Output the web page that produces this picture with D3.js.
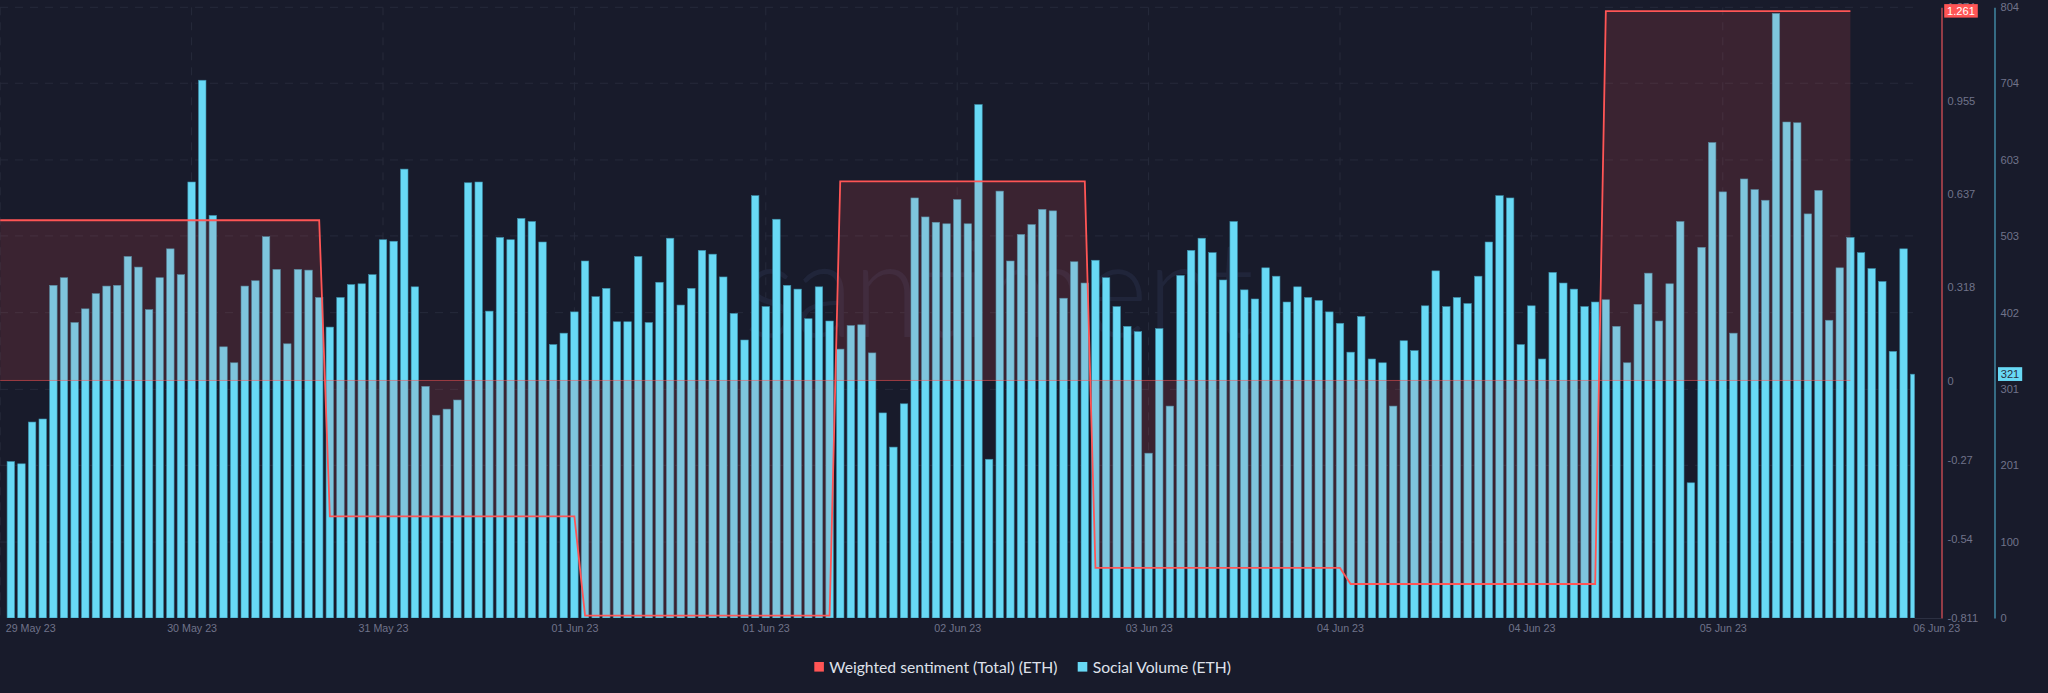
<!DOCTYPE html>
<html>
<head>
<meta charset="utf-8">
<script src="https://cdn.jsdelivr.net/npm/d3@7"></script>
<style>
  html, body { margin: 0; padding: 0; background: #181b2b; }
  svg { display: block; }
  .tick text { font-family: "Liberation Sans", sans-serif; font-size: 11.1px; fill: #70738a; }
  .x-axis .tick text { font-size: 10.7px; }
</style>
</head>
<body>
<div id="chart"></div>
<script>
// Social volume, one bar per period
const socialVolume = [
  206, 203, 258, 262, 438, 448, 389, 407, 427, 437, 438, 476, 462, 406, 448, 486, 452, 574,
  708, 530, 357, 336, 437, 444, 502, 459, 361, 459, 458, 422, 383, 422, 439, 440, 452, 498,
  496, 591, 436, 305, 267, 275, 287, 573, 574, 404, 501, 498, 526, 522, 495, 360, 375, 403,
  470, 423, 434, 390, 390, 476, 389, 442, 500, 412, 434, 484, 479, 449, 401, 366, 556, 410,
  525, 438, 433, 394, 436, 391, 354, 385, 386, 349, 270, 225, 282, 553, 528, 521, 519, 551,
  519, 676, 209, 562, 470, 505, 518, 538, 536, 421, 469, 441, 471, 448, 410, 384, 377, 217,
  381, 279, 451, 484, 500, 481, 445, 522, 432, 420, 461, 450, 416, 436, 422, 418, 403, 388,
  350, 397, 341, 336, 279, 365, 352, 411, 457, 410, 422, 414, 450, 495, 556, 553, 360, 411,
  341, 455, 441, 433, 410, 416, 419, 384, 336, 413, 454, 391, 440, 522, 178, 488, 626, 561,
  375, 578, 564, 550, 796, 653, 652, 532, 563, 392, 461, 501, 481, 460, 443, 351, 486, 321
];

// Weighted sentiment is a daily step, given at the bars where it changes
const sentimentIndex = [-1, 29, 30, 53, 54, 77, 78, 101, 102, 125, 126, 149, 150, 173];
const sentimentValues = [0.547, 0.547, -0.464, -0.464, -0.803, -0.803, 0.68, 0.68, -0.64, -0.64, -0.695, -0.695, 1.261, 1.261];

// Axis ticks
const dateTickIndex = [-1, 17, 35, 53, 71, 89, 107, 125, 143, 161, 179];
const dateTickLabels = ["29 May 23", "30 May 23", "31 May 23", "01 Jun 23", "01 Jun 23", "02 Jun 23", "03 Jun 23", "04 Jun 23", "04 Jun 23", "05 Jun 23", "06 Jun 23"];
const sentimentTicks = [-0.811, -0.54, -0.27, 0, 0.318, 0.637, 0.955, 1.274];
const volumeTicks = [0, 100, 201, 301, 402, 503, 603, 704, 804];

const legendItems = ["Weighted sentiment (Total) (ETH)", "Social Volume (ETH)"];

const width = 2048, height = 693;
const bg = "#181b2b", red = "#ff5555", blue = "#68d9f5";
const plotTop = 7.3, plotBottom = 618, plotRight = 1914.6;

const svg = d3.select("#chart").append("svg")
    .attr("width", width)
    .attr("height", height);

// Scales
const x = d3.scaleLinear().domain([-1, 179]).range([0.2, 1914.2]);
const yVolume = d3.scaleLinear().domain([0, 804]).range([plotBottom, plotTop]);
const ySentiment = d3.scaleLinear().domain([-0.811, 1.274]).range([plotBottom, plotTop]);

svg.append("clipPath").attr("id", "plot")
    .append("rect")
    .attr("x", 0).attr("y", 0)
    .attr("width", plotRight).attr("height", plotBottom);

// Grid lines
svg.append("g").selectAll("line")
    .data(volumeTicks.slice(1))
    .enter().append("line")
    .attr("x1", 0).attr("x2", plotRight)
    .attr("y1", d => yVolume(d)).attr("y2", d => yVolume(d))
    .attr("stroke", "#262a3b")
    .attr("stroke-dasharray", "8 7");

svg.append("g").selectAll("line")
    .data(dateTickIndex.slice(0, -1))
    .enter().append("line")
    .attr("x1", d => x(d)).attr("x2", d => x(d))
    .attr("y1", plotTop).attr("y2", plotBottom)
    .attr("stroke", "#262a3b")
    .attr("stroke-dasharray", "8 7");

// Watermark
svg.append("text")
    .attr("x", 744).attr("y", 337)
    .attr("font-family", "Lato, sans-serif")
    .attr("font-weight", 300)
    .attr("font-size", 134)
    .attr("textLength", 510)
    .attr("lengthAdjust", "spacingAndGlyphs")
    .attr("fill", "#20253a")
    .text("santiment");

// Social volume bars
svg.append("g")
    .attr("clip-path", "url(#plot)")
    .selectAll("rect")
    .data(socialVolume)
    .enter().append("rect")
    .attr("x", (d, i) => x(i) - 3.75)
    .attr("width", 7.5)
    .attr("y", d => yVolume(d))
    .attr("height", d => plotBottom - yVolume(d))
    .attr("fill", blue)
    .attr("stroke", "#3d8ea8")
    .attr("stroke-width", 0.6);

// Sentiment area and line sit on top of the bars
const sentimentPoints = sentimentIndex.map((d, i) => [d, sentimentValues[i]]);

svg.append("path")
    .datum(sentimentPoints)
    .attr("fill", red)
    .attr("fill-opacity", 0.15)
    .attr("d", d3.area()
        .x(d => x(d[0]))
        .y0(ySentiment(0))
        .y1(d => ySentiment(d[1])));

svg.append("line")
    .attr("x1", x(-1)).attr("x2", x(173))
    .attr("y1", ySentiment(0)).attr("y2", ySentiment(0))
    .attr("stroke", red)
    .attr("stroke-opacity", 0.55);

svg.append("path")
    .datum(sentimentPoints)
    .attr("fill", "none")
    .attr("stroke", red)
    .attr("stroke-width", 1.8)
    .attr("d", d3.line()
        .x(d => x(d[0]))
        .y(d => ySentiment(d[1])));

// X axis
const xAxis = svg.append("g")
    .attr("class", "x-axis")
    .attr("transform", `translate(0,${plotBottom})`)
    .call(d3.axisBottom(x)
        .tickValues(dateTickIndex)
        .tickFormat((d, i) => dateTickLabels[i])
        .tickSize(0)
        .tickPadding(6.5));
xAxis.select(".domain").attr("stroke", "#2c3042").attr("d", `M${plotRight},0.5H1941`);
xAxis.selectAll(".tick text")
    .attr("text-anchor", (d, i) => (i === 0 ? "start" : i === dateTickIndex.length - 1 ? "start" : "middle"))
    .attr("dx", (d, i) => (i === 0 ? 5 : i === dateTickIndex.length - 1 ? -1.5 : 0));

// Right axes
const sentimentAxis = svg.append("g")
    .attr("transform", "translate(1941.5,0)")
    .call(d3.axisRight(ySentiment)
        .tickValues(sentimentTicks)
        .tickFormat(d => String(d))
        .tickSize(0)
        .tickPadding(6));
sentimentAxis.select(".domain").attr("stroke", "#e8545a").attr("stroke-width", 1.2);

const volumeAxis = svg.append("g")
    .attr("transform", "translate(1994.5,0)")
    .call(d3.axisRight(yVolume)
        .tickValues(volumeTicks)
        .tickFormat(d3.format("d"))
        .tickSize(0)
        .tickPadding(6));
volumeAxis.select(".domain").attr("stroke", "#4ba3c0").attr("stroke-width", 1.2);

// Last value tags
const lastSentiment = sentimentValues[sentimentValues.length - 1];
const lastVolume = socialVolume[socialVolume.length - 1];

svg.append("rect")
    .attr("x", 1944.2).attr("y", ySentiment(lastSentiment) - 7)
    .attr("width", 33.6).attr("height", 13.5)
    .attr("fill", red);
svg.append("text")
    .attr("x", 1961).attr("y", ySentiment(lastSentiment))
    .attr("dy", "0.32em")
    .attr("text-anchor", "middle")
    .attr("font-family", "Liberation Sans, sans-serif")
    .attr("font-size", 11.1)
    .attr("fill", "#ffffff")
    .text(lastSentiment);

svg.append("rect")
    .attr("x", 1998).attr("y", yVolume(lastVolume) - 7)
    .attr("width", 24.2).attr("height", 13.8)
    .attr("fill", blue);
svg.append("text")
    .attr("x", 2010).attr("y", yVolume(lastVolume))
    .attr("dy", "0.32em")
    .attr("text-anchor", "middle")
    .attr("font-family", "Liberation Sans, sans-serif")
    .attr("font-size", 11.1)
    .attr("fill", "#2a2e40")
    .text(lastVolume);

// Legend
const legendX = [814.3, 1077.7];
const legendColors = [red, blue];
const legend = svg.append("g").selectAll("g")
    .data(legendItems)
    .enter().append("g")
    .attr("transform", (d, i) => `translate(${legendX[i]},662)`);
legend.append("rect")
    .attr("width", 9.6).attr("height", 9.6)
    .attr("fill", (d, i) => legendColors[i]);
legend.append("text")
    .attr("x", 15)
    .attr("y", 5.5)
    .attr("dy", "0.35em")
    .attr("font-family", "Lato, sans-serif")
    .attr("font-size", 15.7)
    .attr("fill", "#dfe1ea")
    .text(d => d);
</script>
</body>
</html>
